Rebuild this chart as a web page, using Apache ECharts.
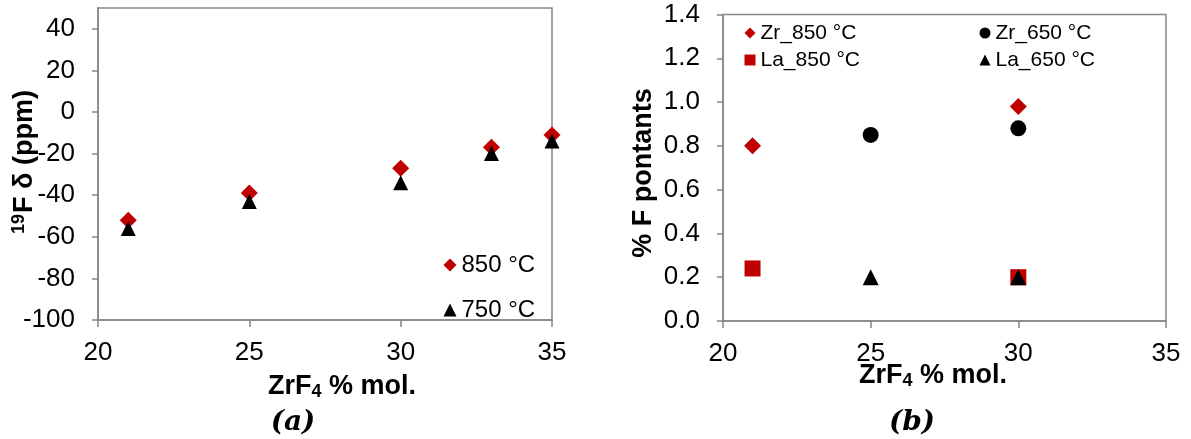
<!DOCTYPE html>
<html>
<head>
<meta charset="utf-8">
<script src="https://cdn.jsdelivr.net/npm/echarts@6/dist/echarts.min.js"></script>
<style>
html,body{margin:0;padding:0;background:#fff;}
#chart{width:1191px;height:439px;}
</style>
</head>
<body>
<div id="chart"></div>
<script>
// ---- Panel (a) data ----
const xA = [21, 25, 30, 33, 35];
const a850 = [-52, -39, -27, -17, -11];
const a750 = [-56, -43, -34, -20, -14];
const aYTicks = { min: -100, max: 50, interval: 20 };
const aXTicks = { min: 20, max: 35, interval: 5 };

// ---- Panel (b) data ----
const zr850x = [21, 30];
const zr850y = [0.80, 0.98];
const zr650x = [25, 30];
const zr650y = [0.85, 0.88];
const la850x = [21, 30];
const la850y = [0.24, 0.20];
const la650x = [25, 30];
const la650y = [0.20, 0.20];
const bYTicks = { min: 0, max: 1.4, interval: 0.2 };
const bXTicks = { min: 20, max: 35, interval: 5 };

const RED = '#C00000';
const GREY = '#868686';
const FONT = '"Liberation Sans", Arial, sans-serif';
const SERIF = '"DejaVu Serif", "Liberation Serif", serif';

function pairs(xs, ys) { return xs.map((x, i) => [x, ys[i]]); }

function xAxisCfg(grid, t) {
  return {
    type: 'value', gridIndex: grid, min: t.min, max: t.max, interval: t.interval,
    axisLine: { show: true, onZero: false, lineStyle: { color: GREY, width: 1.5 } },
    axisTick: { show: true, length: 7, lineStyle: { color: GREY, width: 1.5 } },
    splitLine: { show: false },
    axisLabel: { color: '#000', fontSize: 26, fontFamily: FONT, margin: 20 }
  };
}
function yAxisCfg(grid, t, fmt) {
  return {
    type: 'value', gridIndex: grid, min: t.min, max: t.max, interval: t.interval,
    axisLine: { show: true, onZero: false, lineStyle: { color: GREY, width: 1.5 } },
    axisTick: { show: true, length: 6, lineStyle: { color: GREY, width: 1.5 } },
    splitLine: { show: false },
    axisLabel: { color: '#000', fontSize: 26, fontFamily: FONT, margin: 23, showMaxLabel: fmt ? true : false,
      formatter: fmt || (v => String(v)) }
  };
}
function titleRich(size) {
  return {
    b: { fontSize: size, fontWeight: 'bold', fontFamily: FONT, color: '#000' },
    sub: { fontSize: Math.round(size * 0.65), fontWeight: 'bold', fontFamily: FONT, color: '#000', padding: [Math.round(size * 0.4), 0, 0, 0] },
    sup: { fontSize: Math.round(size * 0.65), fontWeight: 'bold', fontFamily: FONT, color: '#000', verticalAlign: 'top', padding: [0, 1, Math.round(size * 0.4), 0] }
  };
}

const chart = echarts.init(document.getElementById('chart'), null, { renderer: 'canvas' });
chart.setOption({
  animation: false,
  backgroundColor: '#fff',
  grid: [
    { left: 98, top: 8, width: 454, height: 312, show: true, borderColor: GREY, borderWidth: 1.5, backgroundColor: 'transparent' },
    { left: 723, top: 14.5, width: 443, height: 306.5, show: true, borderColor: GREY, borderWidth: 1.5, backgroundColor: 'transparent' }
  ],
  xAxis: [xAxisCfg(0, aXTicks), xAxisCfg(1, bXTicks)],
  yAxis: [yAxisCfg(0, aYTicks), yAxisCfg(1, bYTicks, v => v.toFixed(1))],
  legend: [
    { left: 438.5, top: 248, orient: 'vertical', itemGap: 21, itemWidth: 13, itemHeight: 13,
      textStyle: { fontSize: 24, fontFamily: FONT, color: '#000' }, data: ['850 °C', '750 °C'] },
    { left: 739.5, top: 17.5, orient: 'vertical', itemGap: 6, itemWidth: 11, itemHeight: 11,
      textStyle: { fontSize: 21, fontFamily: FONT, color: '#000' }, data: ['Zr_850 °C', 'La_850 °C'] },
    { left: 974.5, top: 17.5, orient: 'vertical', itemGap: 6, itemWidth: 11, itemHeight: 11,
      textStyle: { fontSize: 21, fontFamily: FONT, color: '#000' }, data: ['Zr_650 °C', 'La_650 °C'] }
  ],
  series: [
    { name: '850 °C', type: 'scatter', xAxisIndex: 0, yAxisIndex: 0, symbol: 'diamond', symbolSize: 17,
      itemStyle: { color: RED, opacity: 1 }, data: pairs(xA, a850) },
    { name: '750 °C', type: 'scatter', xAxisIndex: 0, yAxisIndex: 0, symbol: 'triangle', symbolSize: 15,
      itemStyle: { color: '#000', opacity: 1 }, data: pairs(xA, a750) },
    { name: 'Zr_850 °C', type: 'scatter', xAxisIndex: 1, yAxisIndex: 1, symbol: 'diamond', symbolSize: 17,
      itemStyle: { color: RED, opacity: 1 }, data: pairs(zr850x, zr850y) },
    { name: 'Zr_650 °C', type: 'scatter', xAxisIndex: 1, yAxisIndex: 1, symbol: 'circle', symbolSize: 16,
      itemStyle: { color: '#000', opacity: 1 }, data: pairs(zr650x, zr650y) },
    { name: 'La_850 °C', type: 'scatter', xAxisIndex: 1, yAxisIndex: 1, symbol: 'rect', symbolSize: 16,
      itemStyle: { color: RED, opacity: 1 }, data: pairs(la850x, la850y) },
    { name: 'La_650 °C', type: 'scatter', xAxisIndex: 1, yAxisIndex: 1, symbol: 'triangle', symbolSize: 16,
      itemStyle: { color: '#000', opacity: 1 }, data: pairs(la650x, la650y) }
  ],
  graphic: [
    { type: 'text', x: 25, y: 162, rotation: Math.PI / 2,
      style: { text: '{sup|19}{b|F δ (ppm)}', align: 'center', verticalAlign: 'middle', rich: titleRich(27) } },
    { type: 'text', x: 342, y: 387,
      style: { text: '{b|ZrF}{sub|4}{b| % mol.}', align: 'center', verticalAlign: 'middle', rich: titleRich(27) } },
    { type: 'text', x: 293, y: 423,
      style: { text: '(a)', align: 'center', verticalAlign: 'middle', fontSize: 28, fontStyle: 'italic', fontWeight: 'bold',
        fontFamily: SERIF, fill: '#000' } },
    { type: 'text', x: 644, y: 173, rotation: Math.PI / 2,
      style: { text: '% F pontants', align: 'center', verticalAlign: 'middle', fontSize: 27, fontWeight: 'bold',
        fontFamily: FONT, fill: '#000' } },
    { type: 'text', x: 933, y: 376,
      style: { text: '{b|ZrF}{sub|4}{b| % mol.}', align: 'center', verticalAlign: 'middle', rich: titleRich(27) } },
    { type: 'text', x: 912, y: 423,
      style: { text: '(b)', align: 'center', verticalAlign: 'middle', fontSize: 28, fontStyle: 'italic', fontWeight: 'bold',
        fontFamily: SERIF, fill: '#000' } }
  ]
});
</script>
</body>
</html>
